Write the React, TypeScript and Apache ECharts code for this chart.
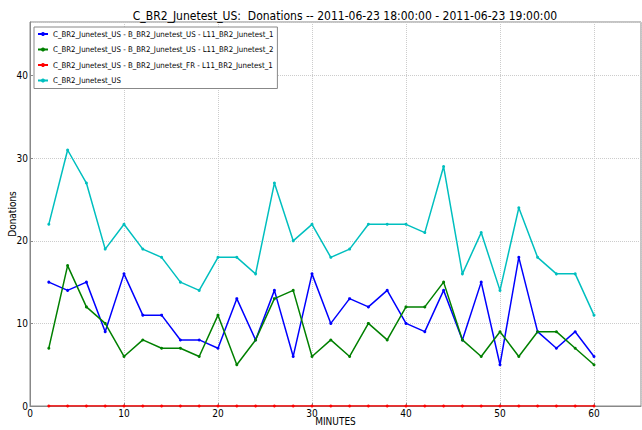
import React, { useEffect, useRef } from "react";
import * as echarts from "echarts";

const minutes = [2,4,6,8,10,12,14,16,18,20,22,24,26,28,30,32,34,36,38,40,42,44,46,48,50,52,54,56,58,60];
const blueVals = [15,14,15,9,16,11,11,8,8,7,13,8,14,6,16,10,13,12,14,10,9,14,8,15,5,18,9,7,9,6];
const greenVals = [7,17,12,10,6,8,7,7,6,11,5,8,13,14,6,8,6,10,8,12,12,15,8,6,9,6,9,9,7,5];
const redVals = [0,0,0,0,0,0,0,0,0,0,0,0,0,0,0,0,0,0,0,0,0,0,0,0,0,0,0,0,0,0];
const cyanVals = [22,31,27,19,22,19,18,15,14,18,18,16,27,20,22,18,19,22,22,22,21,29,16,21,14,24,18,16,16,11];

const seriesNames = [
  "C_BR2_Junetest_US - B_BR2_Junetest_US - L11_BR2_Junetest_1",
  "C_BR2_Junetest_US - B_BR2_Junetest_US - L11_BR2_Junetest_2",
  "C_BR2_Junetest_US - B_BR2_Junetest_FR - L11_BR2_Junetest_1",
  "C_BR2_Junetest_US",
];
const seriesColors = ["#0000ff", "#008000", "#ff0000", "#00bfbf"];
const titleText = "C_BR2_Junetest_US:  Donations -- 2011-06-23 18:00:00 - 2011-06-23 19:00:00";

const FONT = "DejaVu Sans Condensed";

export default function App() {
  const ref = useRef<HTMLDivElement>(null);
  useEffect(() => {
    if (!ref.current) return;
    const chart = echarts.init(ref.current, null, { renderer: "svg" });
    const allVals = [blueVals, greenVals, redVals, cyanVals];
    chart.setOption({
      animation: false,
      backgroundColor: "#ffffff",
      title: {
        text: titleText,
        left: 340,
        textAlign: "center",
        top: 5,
        textStyle: { fontFamily: FONT, fontSize: 12, fontWeight: "normal", color: "#000" },
      },
      legend: {
        orient: "vertical",
        left: 34,
        top: 27,
        backgroundColor: "#ffffff",
        borderColor: "#888",
        borderWidth: 1,
        borderRadius: 0,
        padding: [3, 4, 4, 3],
        itemGap: 7.5,
        itemWidth: 10,
        itemHeight: 5,
        textStyle: { fontFamily: FONT, fontSize: 7.8, color: "#000" },
        data: seriesNames,
      },
      grid: {
        left: 30,
        right: 1,
        top: 22,
        bottom: 24,
        show: true,
        borderColor: "#888",
        borderWidth: 1,
        outerBoundsMode: "none",
        containLabel: false,
      },
      xAxis: {
        type: "value",
        min: 0,
        max: 65,
        interval: 10,
        name: "MINUTES",
        nameLocation: "middle",
        nameGap: 10,
        nameMoveOverlap: false,
        nameTextStyle: { fontFamily: FONT, fontSize: 10, color: "#000" },
        axisLine: { lineStyle: { color: "#888" } },
        axisTick: { inside: true, length: 3, lineStyle: { color: "#888" } },
        axisLabel: { fontFamily: FONT, fontSize: 10, color: "#000", margin: 2, showMaxLabel: false },
        splitLine: { show: true, lineStyle: { type: "dotted", color: "#ccc" } },
      },
      yAxis: {
        type: "value",
        min: 0,
        max: 46.5,
        interval: 10,
        name: "Donations",
        nameLocation: "middle",
        nameGap: 13,
        nameRotate: 90,
        nameMoveOverlap: false,
        nameTextStyle: { fontFamily: FONT, fontSize: 10, color: "#000" },
        axisLine: { show: true, lineStyle: { color: "#888" } },
        axisTick: { show: true, inside: true, length: 3, lineStyle: { color: "#888" } },
        axisLabel: { fontFamily: FONT, fontSize: 10, color: "#000", margin: 2, showMaxLabel: false },
        splitLine: { show: true, lineStyle: { type: "dotted", color: "#ccc" } },
      },
      series: seriesNames.map((name, i) => ({
        name,
        type: "line",
        data: minutes.map((m, j) => [m, allVals[i][j]]),
        color: seriesColors[i],
        symbol: "circle",
        symbolSize: 3,
        showSymbol: true,
        lineStyle: { width: 1.5, color: seriesColors[i] },
        itemStyle: { color: seriesColors[i] },
        z: i === 2 ? 5 : 3,
      })),
    });
    return () => chart.dispose();
  }, []);
  return <div ref={ref} style={{ width: 642, height: 430, position: "absolute", left: 0, top: 0 }} />;
}
